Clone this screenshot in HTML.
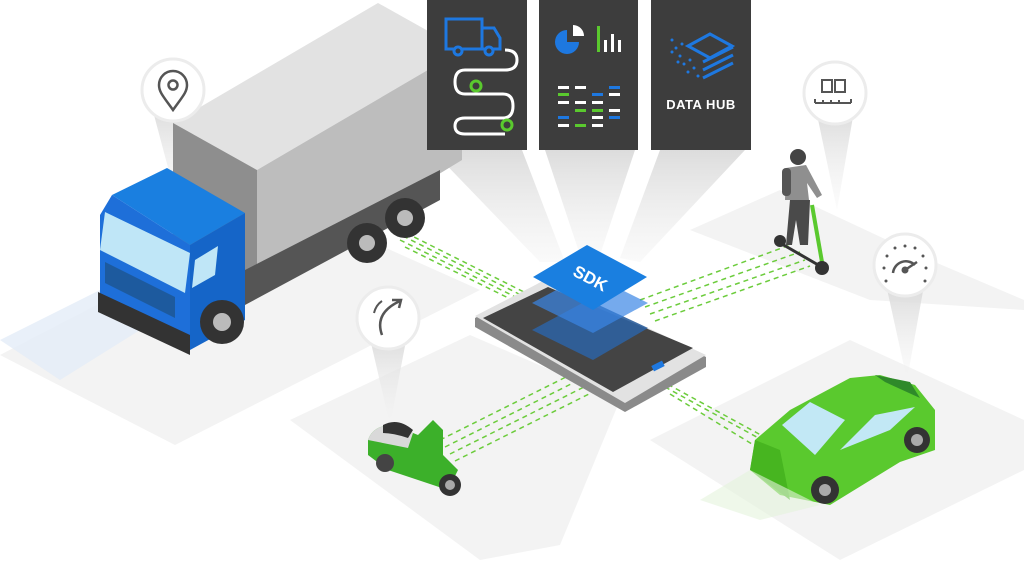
<!DOCTYPE html>
<html><head><meta charset="utf-8"><style>html,body{margin:0;padding:0;background:#fff}svg{display:block}</style></head><body>
<svg width="1024" height="574" viewBox="0 0 1024 574" xmlns="http://www.w3.org/2000/svg" font-family="Liberation Sans, sans-serif">
<defs>
<linearGradient id="cone" x1="0" y1="0" x2="0" y2="1"><stop offset="0" stop-color="#d8d8d8"/><stop offset="1" stop-color="#f4f4f4" stop-opacity="0.3"/></linearGradient>
<linearGradient id="beam" x1="0" y1="0" x2="0" y2="1"><stop offset="0" stop-color="#dcdcdc"/><stop offset="1" stop-color="#f2f2f2" stop-opacity="0.4"/></linearGradient>
</defs>
<!-- ground tiles -->
<g fill="#f3f3f3">
<polygon points="0,355 290,205 480,290 175,445"/>
<polygon points="290,420 470,335 620,400 560,545 480,560"/>
<polygon points="690,230 780,190 930,260 1024,300 1024,310 870,300"/>
<polygon points="650,440 850,340 1024,420 1024,470 840,560"/>
</g>
<polygon points="0,340 100,290 140,330 60,380" fill="#e3ecf8" opacity="0.8"/>
<!-- cones -->
<g fill="url(#cone)">
<polygon points="150,100 200,100 178,205"/>
<polygon points="368,330 408,330 390,425"/>
<polygon points="815,105 855,105 837,210"/>
<polygon points="885,280 925,280 907,380"/>
</g>
<g fill="url(#beam)">
<polygon points="432,150 522,150 565,262 540,262"/>
<polygon points="545,150 635,150 600,255 580,255"/>
<polygon points="660,150 745,150 640,262 620,258"/>
</g>
<!-- dashed green lines -->
<g stroke="#6ccc3c" stroke-width="1.5" stroke-dasharray="5,4" fill="none">
<path d="M390,225 L540,300 M395,232 L545,307 M400,240 L550,314 M405,247 L555,321"/>
<path d="M640,300 L790,245 M645,307 L800,252 M650,314 L805,260 M655,321 L810,266"/>
<path d="M440,440 L580,370 M445,447 L585,377 M450,454 L590,384 M455,461 L595,391"/>
<path d="M660,380 L770,440 M665,387 L775,447 M670,394 L770,455"/>
</g>
<!-- truck box -->
<polygon points="173,123 378,3 462,50 257,170" fill="#e2e2e2"/>
<polygon points="257,170 462,50 462,160 257,285" fill="#bdbdbd"/>
<polygon points="173,123 257,170 257,285 173,240" fill="#8e8e8e"/>
<polygon points="245,270 440,170 440,200 245,305" fill="#555"/>
<circle cx="367" cy="243" r="20" fill="#333"/><circle cx="367" cy="243" r="8" fill="#bbb"/>
<circle cx="405" cy="218" r="20" fill="#333"/><circle cx="405" cy="218" r="8" fill="#bbb"/>
<!-- cab -->
<polygon points="112,195 167,168 245,213 190,245" fill="#1a7fe0"/>
<polygon points="190,245 245,213 245,320 190,350" fill="#1565c8"/>
<polygon points="100,215 112,195 190,245 190,352 100,305" fill="#1e6fd9"/>
<polygon points="105,212 190,253 185,293 100,250" fill="#bfe6f7"/>
<polygon points="195,260 218,246 215,275 192,288" fill="#bfe6f7"/>
<polygon points="105,262 175,297 175,318 105,283" fill="#1d5a9e"/>
<polygon points="98,292 190,335 190,355 98,312" fill="#333"/>
<circle cx="222" cy="322" r="22" fill="#333"/><circle cx="222" cy="322" r="9" fill="#bbb"/>
<!-- panels -->
<rect x="427" y="0" width="100" height="150" fill="#3d3d3d"/>
<rect x="539" y="0" width="99" height="150" fill="#3d3d3d"/>
<rect x="651" y="0" width="100" height="150" fill="#3d3d3d"/>
<g fill="none" stroke="#1e78e0" stroke-width="3"><rect x="446" y="19" width="36" height="30"/><path d="M482,28 h12 l6,10 v11 h-18"/></g>
<circle cx="458" cy="51" r="4" fill="#3d3d3d" stroke="#1e78e0" stroke-width="3"/><circle cx="489" cy="51" r="4" fill="#3d3d3d" stroke="#1e78e0" stroke-width="3"/>
<path d="M505,50 q12,0 12,10 t-12,10 h-40 q-10,0 -10,12 t10,12 h38 q10,0 10,12 t-10,12 h-38 q-10,0 -10,8 t10,8 h40" fill="none" stroke="#fff" stroke-width="3"/>
<circle cx="476" cy="86" r="5" fill="#3d3d3d" stroke="#5ac92e" stroke-width="3"/>
<circle cx="507" cy="125" r="5" fill="#3d3d3d" stroke="#5ac92e" stroke-width="3"/>
<path d="M567,30 a12,12 0 1 0 12,12 h-12z" fill="#1e78e0"/><path d="M573,25 a11,11 0 0 1 11,11 h-11z" fill="#fff"/>
<g fill="#5ac92e"><rect x="597" y="26" width="3" height="26"/></g><g fill="#fff"><rect x="604" y="40" width="3" height="12"/><rect x="611" y="34" width="3" height="18"/><rect x="618" y="40" width="3" height="12"/></g>
<g fill="#fff"><rect x="558" y="86" width="11" height="3"/><rect x="575" y="86" width="11" height="3"/><rect x="558" y="101" width="11" height="3"/><rect x="575" y="101" width="11" height="3"/><rect x="592" y="101" width="11" height="3"/><rect x="609" y="93" width="11" height="3"/><rect x="592" y="116" width="11" height="3"/><rect x="609" y="109" width="11" height="3"/><rect x="558" y="124" width="11" height="3"/><rect x="592" y="124" width="11" height="3"/></g>
<g fill="#5ac92e"><rect x="558" y="93" width="11" height="3"/><rect x="575" y="109" width="11" height="3"/><rect x="592" y="109" width="11" height="3"/><rect x="575" y="124" width="11" height="3"/></g>
<g fill="#1e78e0"><rect x="592" y="93" width="11" height="3"/><rect x="609" y="86" width="11" height="3"/><rect x="558" y="116" width="11" height="3"/><rect x="609" y="116" width="11" height="3"/></g>
<g fill="none" stroke="#1e78e0" stroke-width="3"><path d="M688,46 l22,-12 l22,12 l-22,12z M703,62 l30,-15 M703,70 l30,-15 M703,78 l30,-15"/></g>
<g fill="#1e78e0"><circle cx="672" cy="40" r="1.5"/><circle cx="676" cy="48" r="1.5"/><circle cx="680" cy="56" r="1.5"/><circle cx="684" cy="64" r="1.5"/><circle cx="688" cy="72" r="1.5"/><circle cx="672" cy="52" r="1.5"/><circle cx="678" cy="62" r="1.5"/><circle cx="690" cy="60" r="1.5"/><circle cx="694" cy="68" r="1.5"/><circle cx="698" cy="76" r="1.5"/><circle cx="682" cy="44" r="1.5"/></g>
<text x="701" y="109" fill="#fff" font-size="13" font-weight="bold" text-anchor="middle" letter-spacing="0.5">DATA HUB</text>
<!-- phone -->
<polygon points="475,318 545,280 706,357 706,367 625,412 475,327" fill="#8a8a8a"/>
<polygon points="475,316 545,280 706,355 625,403" fill="#e2e2e2"/>
<polygon points="483,318 548,287 693,348 613,392" fill="#444"/>
<rect x="652" y="363" width="12" height="6" fill="#1e78e0" transform="rotate(-27 658 366)"/>
<polygon points="532,330 588,300 648,328 593,360" fill="#2f62a0" opacity="0.9"/>
<polygon points="532,303 588,273 648,303 593,333" fill="#3a86e6" opacity="0.7"/>
<polygon points="533,277 587,245 647,277 593,310" fill="#1a7fe0"/>
<text x="590" y="284" fill="#fff" font-size="17" font-weight="bold" text-anchor="middle" transform="rotate(28 590 279)">SDK</text>
<!-- scooter rider -->
<path d="M775,240 L820,266" stroke="#333" stroke-width="3"/>
<path d="M812,205 L822,262" stroke="#5ac92e" stroke-width="4"/>
<circle cx="780" cy="241" r="6" fill="#333"/><circle cx="822" cy="268" r="7" fill="#333"/>
<path d="M790,200 h20 l-2,45 h-8 l-4,-25 l-4,25 h-6z" fill="#4a4a4a"/>
<path d="M786,168 l20,-3 l16,30 l-5,3 l-10,-15 l2,17 h-24z" fill="#8f8f8f"/>
<rect x="782" y="168" width="9" height="28" rx="4" fill="#555"/>
<circle cx="798" cy="157" r="8" fill="#444"/>
<!-- car -->
<polygon points="750,470 755,440 790,410 850,378 880,375 915,385 935,410 935,450 900,462 830,505 780,495" fill="#5ac92e"/>
<polygon points="750,470 755,440 780,450 790,500" fill="#47b520"/>
<polygon points="782,425 810,402 845,420 815,455" fill="#c2e8f5"/>
<polygon points="840,450 875,415 915,407 890,430" fill="#c2e8f5"/>
<polygon points="875,375 910,382 920,398 885,382" fill="#2f8a2a"/>
<circle cx="825" cy="490" r="14" fill="#333"/><circle cx="825" cy="490" r="6" fill="#aaa"/>
<circle cx="917" cy="440" r="13" fill="#333"/><circle cx="917" cy="440" r="6" fill="#aaa"/>
<polygon points="750,470 820,505 760,520 700,500" fill="#e4f3dc" opacity="0.6"/>
<!-- moped -->
<path d="M368,440 q5,-15 25,-15 l25,10 l15,-15 l10,10 l0,25 l15,15 l-10,20 l-30,-10 l-30,-10 l-20,-15z" fill="#3cb02a"/>
<path d="M368,440 q5,-15 25,-15 l20,8 l-5,15 z" fill="#d9d9d9"/>
<path d="M383,425 q15,-8 30,5 l-5,8 q-15,-5 -25,-5z" fill="#333"/>
<circle cx="385" cy="463" r="9" fill="#444"/><circle cx="450" cy="485" r="11" fill="#333"/><circle cx="450" cy="485" r="5" fill="#aaa"/>
<!-- circles -->
<g fill="#fff" stroke="#ececec" stroke-width="3">
<circle cx="173" cy="90" r="31"/><circle cx="388" cy="318" r="31"/><circle cx="835" cy="93" r="31"/><circle cx="905" cy="265" r="31"/>
</g>
<path d="M173,110 c-10,-14 -14,-18 -14,-25 a14,14 0 0 1 28,0 c0,7 -4,11 -14,25z" fill="none" stroke="#555" stroke-width="2.5"/><circle cx="173" cy="85" r="4.5" fill="none" stroke="#555" stroke-width="2.5"/>
<path d="M382,335 q-8,-22 18,-34 M392,300 l9,0 l-2,8" fill="none" stroke="#555" stroke-width="2.5"/>
<path d="M374,313 q2,-8 8,-12" fill="none" stroke="#555" stroke-width="2"/>
<g fill="none" stroke="#555" stroke-width="2"><rect x="822" y="80" width="10" height="12"/><rect x="835" y="80" width="10" height="12"/><path d="M815,103 h36 M815,99 v4 M823,100 v3 M831,100 v3 M839,100 v3 M851,99 v4"/></g>
<g fill="none" stroke="#555" stroke-width="2.5"><path d="M893,273 a13,13 0 0 1 22,-8"/><path d="M905,270 l12,-8"/></g>
<circle cx="905" cy="270" r="3.5" fill="#555"/>
<g fill="#555"><circle cx="884" cy="268" r="1.5"/><circle cx="926" cy="268" r="1.5"/><circle cx="887" cy="256" r="1.5"/><circle cx="923" cy="256" r="1.5"/><circle cx="895" cy="248" r="1.5"/><circle cx="905" cy="246" r="1.5"/><circle cx="915" cy="248" r="1.5"/><circle cx="886" cy="281" r="1.5"/><circle cx="925" cy="281" r="1.5"/></g>
</svg>
</body></html>
